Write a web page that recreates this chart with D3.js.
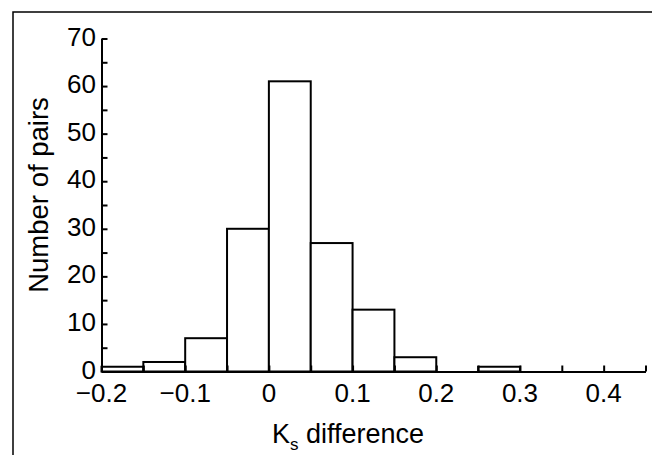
<!DOCTYPE html>
<html>
<head>
<meta charset="utf-8">
<script src="https://cdn.jsdelivr.net/npm/d3@7"></script>
<style>
  body { margin: 0; background: #fff; }
  text { font-family: "Liberation Sans", Arial, sans-serif; fill: #000; }
</style>
</head>
<body>
<div id="chart-area"></div>
<script>
// histogram of Ks differences, bins of 0.05
const binStarts = [-0.2, -0.15, -0.1, -0.05, 0, 0.05, 0.1, 0.15, 0.2, 0.25];
const counts = [1, 2, 7, 30, 61, 27, 13, 3, 0, 1];
const xTickValues = [-0.2, -0.1, 0, 0.1, 0.2, 0.3, 0.4];
const yTickValues = [0, 10, 20, 30, 40, 50, 60, 70];
const BIN = 0.05;

const W = 652, H = 455;

const svg = d3.select("#chart-area").append("svg")
  .attr("width", W)
  .attr("height", H);

// frame (top + left only, like the cropped figure)
svg.append("path")
  .attr("d", `M13,${H} L13,12 L${W},12`)
  .attr("fill", "none")
  .attr("stroke", "#000")
  .attr("stroke-width", 1.5);

const x = d3.scaleLinear()
  .domain([-0.2, 0.45])
  .range([101.5, 645.5]);

const y = d3.scaleLinear()
  .domain([0, 70])
  .range([371.5, 38.5]);

const data = binStarts.map((s, i) => ({ x0: s, x1: s + BIN, n: counts[i] }));

// bars
svg.selectAll("rect.bar").data(data.filter(d => d.n > 0))
  .enter().append("rect")
  .attr("class", "bar")
  .attr("x", d => x(d.x0))
  .attr("y", d => y(d.n))
  .attr("width", d => x(d.x1) - x(d.x0))
  .attr("height", d => y(0) - y(d.n))
  .attr("fill", "#fff")
  .attr("stroke", "#000")
  .attr("stroke-width", 2);

// x axis: ticks pointing inward
const xAxis = svg.append("g")
  .attr("transform", `translate(0,${y(0)})`)
  .call(d3.axisTop(x)
    .tickValues(d3.range(0, 14).map(i => -0.2 + i * BIN))
    .tickSize(6)
    .tickSizeOuter(0)
    .tickFormat(""));
xAxis.select(".domain").attr("stroke-width", 2);
xAxis.selectAll(".tick line").attr("stroke-width", 2);

svg.append("g").selectAll("text").data(xTickValues)
  .enter().append("text")
  .attr("x", d => x(d))
  .attr("y", 402)
  .attr("text-anchor", "middle")
  .attr("font-size", "26px")
  .text(d => d3.format(".1~f")(d));

// y axis
const yAxis = svg.append("g")
  .attr("transform", `translate(${x(-0.2)},0)`)
  .call(d3.axisRight(y)
    .tickValues(d3.range(0, 15).map(i => i * 5))
    .tickSize(6)
    .tickSizeOuter(0)
    .tickFormat(""));
yAxis.select(".domain").attr("stroke-width", 2);
yAxis.selectAll(".tick line").attr("stroke-width", 2);

svg.append("g").selectAll("text").data(yTickValues)
  .enter().append("text")
  .attr("x", 96)
  .attr("y", d => y(d))
  .attr("dy", "0.27em")
  .attr("text-anchor", "end")
  .attr("font-size", "26px")
  .text(d => d);

// axis titles
const xt = svg.append("text")
  .attr("x", 348)
  .attr("y", 443)
  .attr("text-anchor", "middle")
  .attr("font-size", "27px");
xt.append("tspan").text("K");
xt.append("tspan").attr("font-size", "17px").attr("dy", 7).text("s");
xt.append("tspan").attr("dy", -7).text(" difference");

svg.append("text")
  .attr("transform", "translate(48,195) rotate(-90)")
  .attr("text-anchor", "middle")
  .attr("font-size", "27.5px")
  .text("Number of pairs");
</script>
</body>
</html>
